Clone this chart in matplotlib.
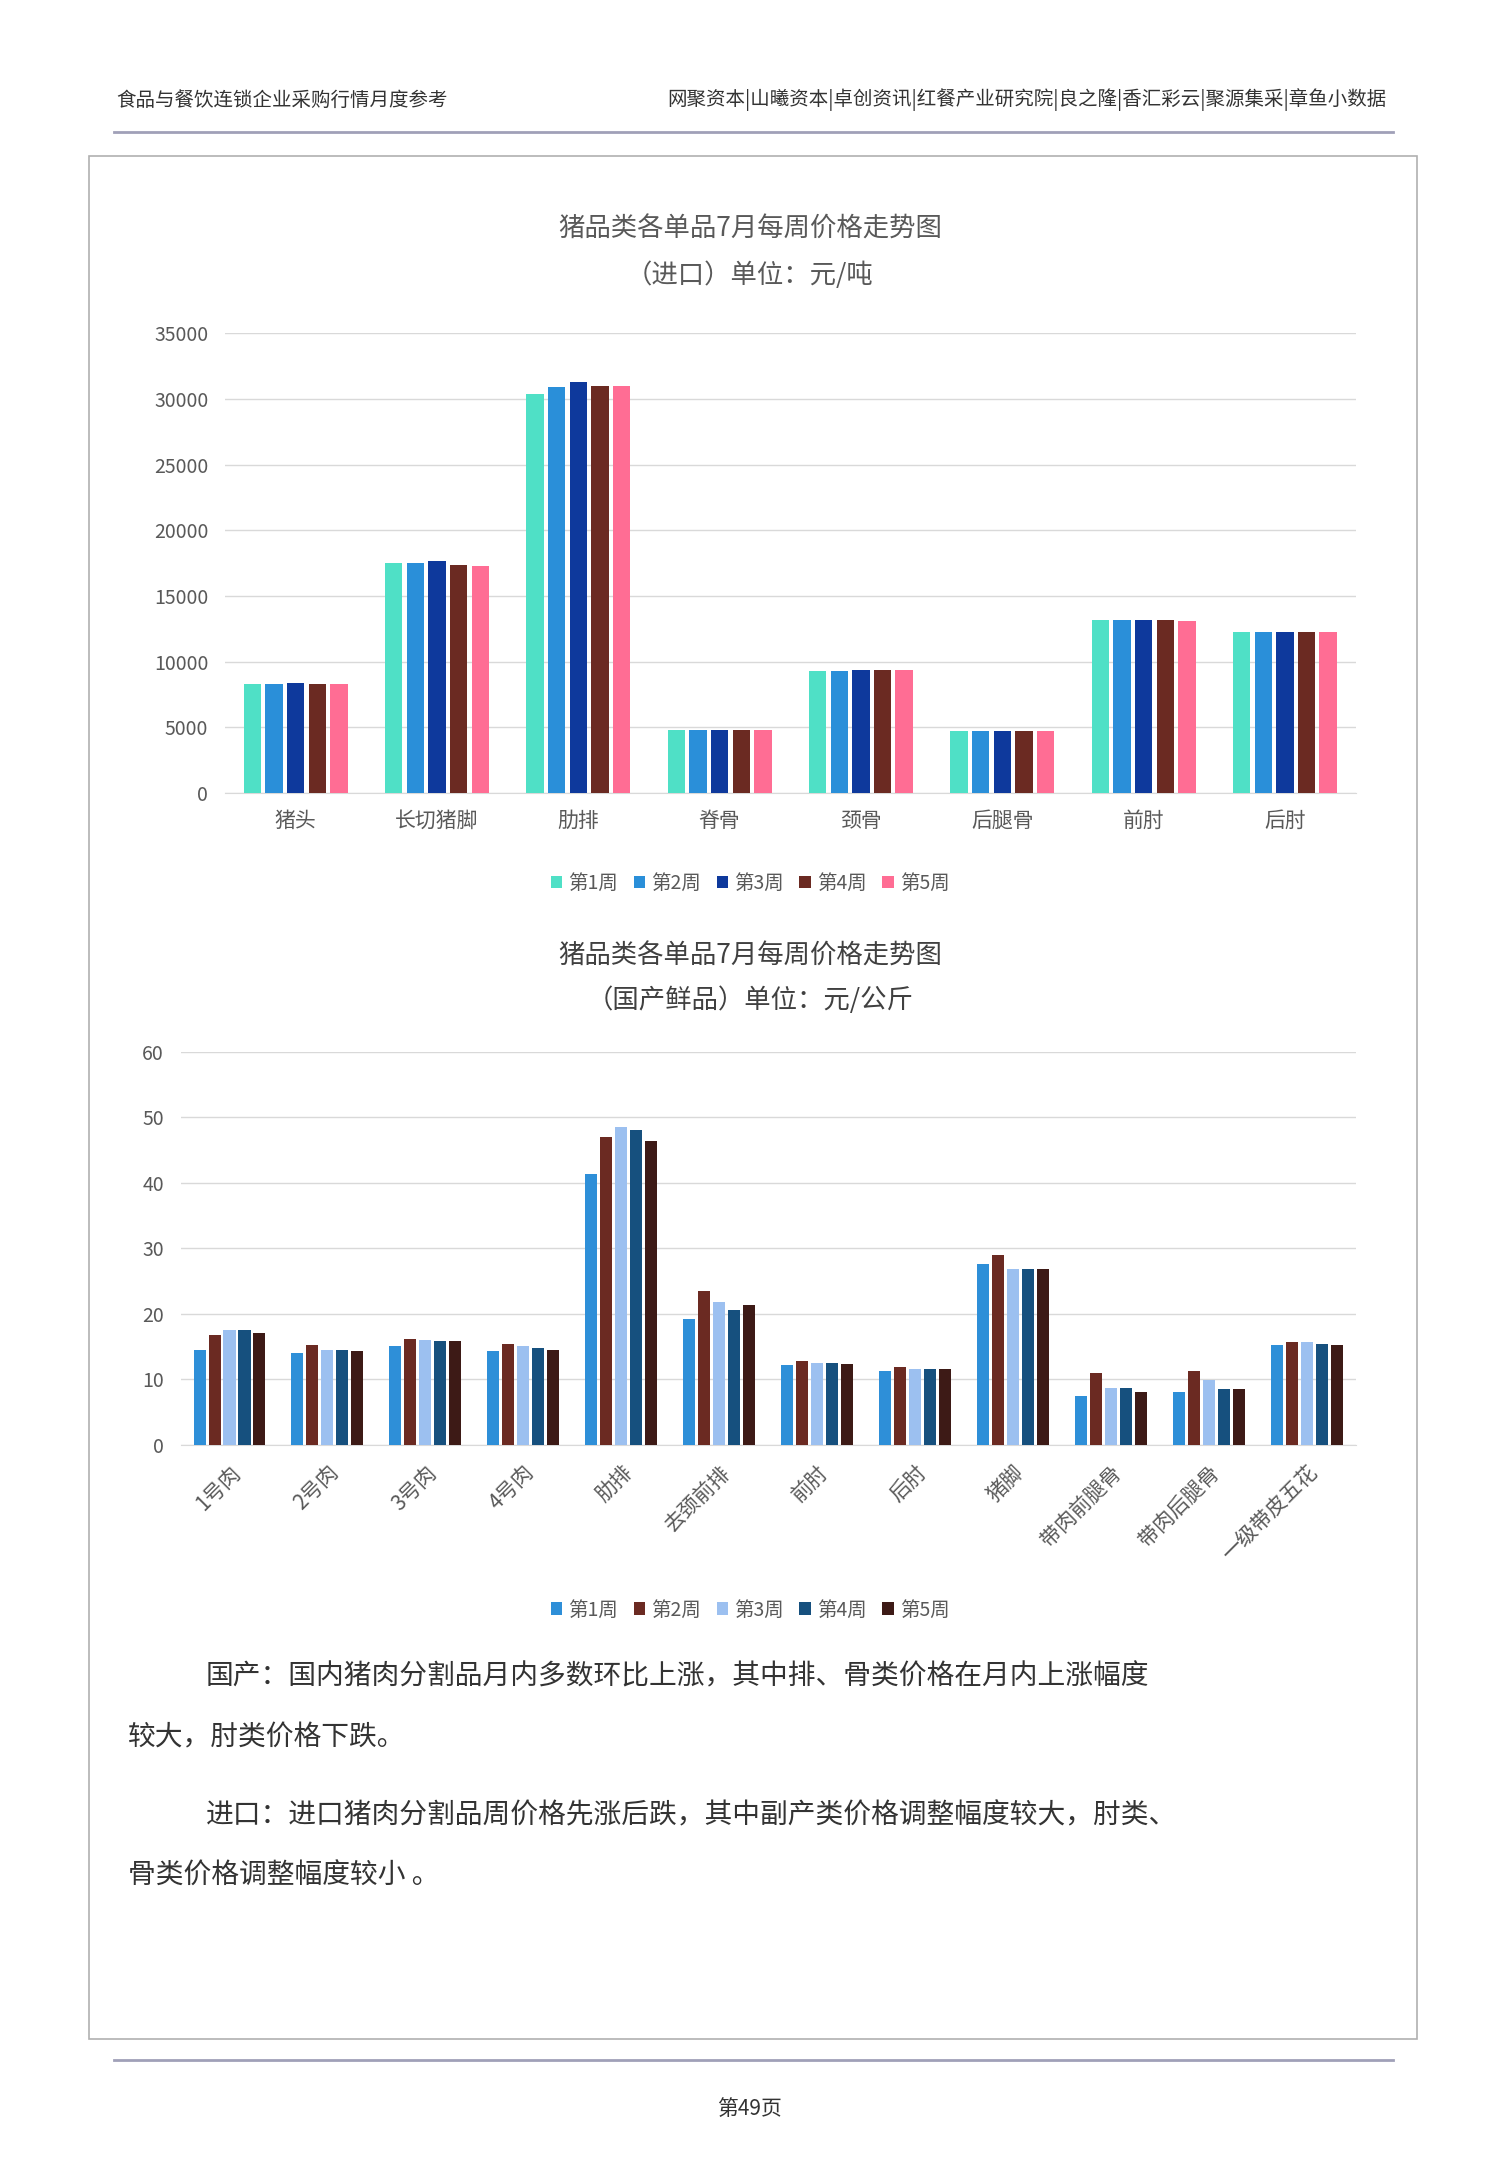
import numpy as np
import matplotlib.pyplot as plt
from matplotlib.patches import Rectangle
from matplotlib.lines import Line2D

plt.rcParams['font.family'] = ['Noto Sans CJK SC', 'DejaVu Sans']

weeks = ['第1周', '第2周', '第3周', '第4周', '第5周']

imp_cats = ['猪头', '长切猪脚', '肋排', '脊骨', '颈骨', '后腿骨', '前肘', '后肘']
imp_vals = [
    [8300, 17500, 30400, 4800, 9300, 4700, 13200, 12300],
    [8300, 17500, 30900, 4800, 9300, 4700, 13200, 12300],
    [8400, 17700, 31300, 4800, 9400, 4700, 13200, 12300],
    [8300, 17400, 31000, 4800, 9400, 4700, 13200, 12300],
    [8300, 17300, 31000, 4800, 9400, 4700, 13100, 12300],
]
imp_colors = ['#4FE0C6', '#2A8FD9', '#0E399C', '#6B2A22', '#FF6D94']

dom_cats = ['1号肉', '2号肉', '3号肉', '4号肉', '肋排', '去颈前排', '前肘', '后肘',
            '猪脚', '带肉前腿骨', '带肉后腿骨', '一级带皮五花']
dom_vals = [
    [14.5, 14.0, 15.0, 14.3, 41.3, 19.2, 12.2, 11.3, 27.5, 7.5, 8.0, 15.2],
    [16.8, 15.2, 16.2, 15.4, 47.0, 23.5, 12.8, 11.8, 29.0, 10.9, 11.3, 15.6],
    [17.5, 14.5, 16.0, 15.0, 48.5, 21.8, 12.5, 11.5, 26.8, 8.6, 9.8, 15.6],
    [17.5, 14.5, 15.8, 14.8, 48.0, 20.6, 12.5, 11.5, 26.8, 8.6, 8.5, 15.4],
    [17.0, 14.3, 15.8, 14.5, 46.3, 21.3, 12.3, 11.5, 26.8, 8.0, 8.5, 15.2],
]
dom_colors = ['#2E8FD8', '#6B2A22', '#9CC0F0', '#16507E', '#3D1A16']

W, H = 1080, 1560
fig = plt.figure(figsize=(15, 21.67), dpi=100)


def fx(x):
    return x / W


def fy(y):
    return 1 - y / H


grey = '#595959'
# header / footer
fig.text(fx(84), fy(72), '食品与餐饮连锁企业采购行情月度参考', fontsize=14, va='center', color='#333333')
fig.text(fx(998), fy(72), '网聚资本|山曦资本|卓创资讯|红餐产业研究院|良之隆|香汇彩云|聚源集采|章鱼小数据',
         fontsize=14, va='center', ha='right', color='#333333')
fig.add_artist(Line2D([fx(82), fx(1003)], [fy(95), fy(95)], color='#A0A0B8', lw=2))
fig.add_artist(Line2D([fx(82), fx(1003)], [fy(1483), fy(1483)], color='#A0A0B8', lw=2))
fig.text(0.5, fy(1518), '第49页', fontsize=15, ha='center', va='center', color='#333333')
fig.add_artist(Rectangle((fx(64), fy(1468)), fx(1020) - fx(64), fy(112) - fy(1468),
                         fill=False, ec='#B0B0B0', lw=1.2))


def bar_chart(ax, cats, vals, colors, ymax, step, rot):
    n = len(vals)
    x = np.arange(len(cats))
    w = 0.123
    for i, v in enumerate(vals):
        ax.bar(x + (i - (n - 1) / 2) * (w + 0.03), v, w, color=colors[i], label=weeks[i], zorder=3)
    ax.set_xlim(-0.5, len(cats) - 0.5)
    ax.set_ylim(0, ymax)
    ax.set_yticks(np.arange(0, ymax + 1, step))
    ax.grid(axis='y', color='#D9D9D9', lw=1, zorder=0)
    for s in ['top', 'right', 'left']:
        ax.spines[s].set_visible(False)
    ax.spines['bottom'].set_color('#D9D9D9')
    ax.tick_params(length=0, labelsize=14, colors=grey, pad=12)
    ax.set_xticks(x)
    if rot:
        ax.set_xticklabels(cats, rotation=45, ha='right', rotation_mode='anchor', fontsize=15)
    else:
        ax.set_xticklabels(cats, fontsize=15)


ax1 = fig.add_axes([fx(162), fy(571), fx(976) - fx(162), fy(240) - fy(571)])
bar_chart(ax1, imp_cats, imp_vals, imp_colors, 35000, 5000, False)
fig.text(0.5, fy(165), '猪品类各单品7月每周价格走势图', fontsize=19, ha='center', va='center', color=grey)
fig.text(0.5, fy(198), '（进口）单位：元/吨', fontsize=19, ha='center', va='center', color=grey)
fig.legend(*ax1.get_legend_handles_labels(), loc='center', bbox_to_anchor=(0.5, fy(636)), ncol=5,
           frameon=False, fontsize=14, handlelength=0.6, handleheight=0.6, columnspacing=0.8,
           handletextpad=0.3, labelcolor=grey)

ax2 = fig.add_axes([fx(130), fy(1040), fx(976) - fx(130), fy(757) - fy(1040)])
bar_chart(ax2, dom_cats, dom_vals, dom_colors, 60, 10, True)
fig.text(0.5, fy(688), '猪品类各单品7月每周价格走势图', fontsize=19, ha='center', va='center', color='#404040')
fig.text(0.5, fy(720), '（国产鲜品）单位：元/公斤', fontsize=19, ha='center', va='center', color='#404040')
fig.legend(*ax2.get_legend_handles_labels(), loc='center', bbox_to_anchor=(0.5, fy(1159)), ncol=5,
           frameon=False, fontsize=14, handlelength=0.6, handleheight=0.6, columnspacing=0.8,
           handletextpad=0.3, labelcolor=grey)

para = '#333333'
fig.text(fx(148), fy(1207), '国产：国内猪肉分割品月内多数环比上涨，其中排、骨类价格在月内上涨幅度',
         fontsize=20, va='center', color=para)
fig.text(fx(92), fy(1251), '较大，肘类价格下跌。', fontsize=20, va='center', color=para)
fig.text(fx(148), fy(1307), '进口：进口猪肉分割品周价格先涨后跌，其中副产类价格调整幅度较大，肘类、',
         fontsize=20, va='center', color=para)
fig.text(fx(92), fy(1350), '骨类价格调整幅度较小 。', fontsize=20, va='center', color=para)

fig.savefig('out.png', dpi=100, facecolor='white')
